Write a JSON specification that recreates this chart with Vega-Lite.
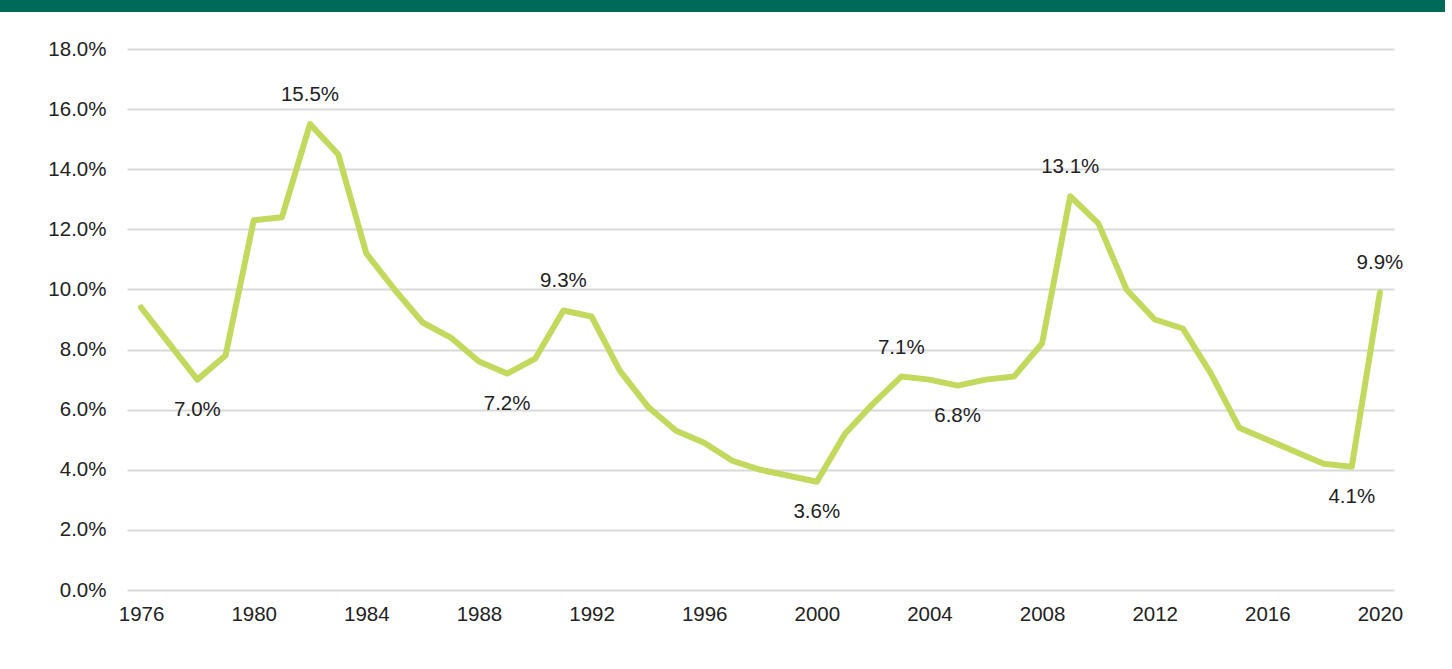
{
  "$schema": "https://vega.github.io/schema/vega-lite/v6.json",
  "padding": 0,
  "background": "white",
  "spacing": 27,
  "config": {
    "view": {"stroke": null},
    "font": "Liberation Sans",
    "concat": {"spacing": 0}
  },
  "datasets": {
    "rates": [
      {"year": 1976, "value": 0.094},
      {"year": 1977, "value": 0.082},
      {"year": 1978, "value": 0.070, "extreme": "trough"},
      {"year": 1979, "value": 0.078},
      {"year": 1980, "value": 0.123},
      {"year": 1981, "value": 0.124},
      {"year": 1982, "value": 0.155, "extreme": "peak"},
      {"year": 1983, "value": 0.145},
      {"year": 1984, "value": 0.112},
      {"year": 1985, "value": 0.100},
      {"year": 1986, "value": 0.089},
      {"year": 1987, "value": 0.084},
      {"year": 1988, "value": 0.076},
      {"year": 1989, "value": 0.072, "extreme": "trough"},
      {"year": 1990, "value": 0.077},
      {"year": 1991, "value": 0.093, "extreme": "peak"},
      {"year": 1992, "value": 0.091},
      {"year": 1993, "value": 0.073},
      {"year": 1994, "value": 0.061},
      {"year": 1995, "value": 0.053},
      {"year": 1996, "value": 0.049},
      {"year": 1997, "value": 0.043},
      {"year": 1998, "value": 0.040},
      {"year": 1999, "value": 0.038},
      {"year": 2000, "value": 0.036, "extreme": "trough"},
      {"year": 2001, "value": 0.052},
      {"year": 2002, "value": 0.062},
      {"year": 2003, "value": 0.071, "extreme": "peak"},
      {"year": 2004, "value": 0.070},
      {"year": 2005, "value": 0.068, "extreme": "trough"},
      {"year": 2006, "value": 0.070},
      {"year": 2007, "value": 0.071},
      {"year": 2008, "value": 0.082},
      {"year": 2009, "value": 0.131, "extreme": "peak"},
      {"year": 2010, "value": 0.122},
      {"year": 2011, "value": 0.100},
      {"year": 2012, "value": 0.090},
      {"year": 2013, "value": 0.087},
      {"year": 2014, "value": 0.072},
      {"year": 2015, "value": 0.054},
      {"year": 2016, "value": 0.050},
      {"year": 2017, "value": 0.046},
      {"year": 2018, "value": 0.042},
      {"year": 2019, "value": 0.041, "extreme": "trough"},
      {"year": 2020, "value": 0.099, "extreme": "peak"}
    ]
  },
  "vconcat": [
    {
      "width": 1445,
      "height": 12,
      "data": {"values": [{}]},
      "mark": {"type": "rect", "color": "#006a5a"},
      "encoding": {}
    },
    {
      "spacing": 0,
      "hconcat": [
        {
          "width": 47,
          "height": 10,
          "data": {"values": []},
          "mark": "rect",
          "encoding": {}
        },
        {
          "width": 1267,
          "height": 541,
          "data": {"name": "rates"},
          "encoding": {
            "x": {
              "field": "year",
              "type": "quantitative",
              "scale": {"domain": [1975.5, 2020.5], "nice": false, "zero": false},
              "axis": {
                "title": null,
                "values": [1976, 1980, 1984, 1988, 1992, 1996, 2000, 2004, 2008, 2012, 2016, 2020],
                "format": "d",
                "grid": false,
                "ticks": false,
                "domain": false,
                "labelFlush": false,
                "labelPadding": 14,
                "labelFont": "Liberation Sans",
                "labelFontSize": 20.5,
                "labelColor": "#222222"
              }
            },
            "y": {
              "field": "value",
              "type": "quantitative",
              "scale": {"domain": [0, 0.18], "nice": false},
              "axis": {
                "title": null,
                "values": [0, 0.02, 0.04, 0.06, 0.08, 0.1, 0.12, 0.14, 0.16, 0.18],
                "format": ".1%",
                "grid": true,
                "gridColor": "#d9d9d9",
                "gridWidth": 2,
                "ticks": false,
                "domain": false,
                "labelFlush": false,
                "labelPadding": 21,
                "labelFont": "Liberation Sans",
                "labelFontSize": 20.5,
                "labelColor": "#222222"
              }
            }
          },
          "layer": [
            {
              "mark": {"type": "line", "color": "#c3d95e", "strokeWidth": 6, "strokeJoin": "round", "strokeCap": "round"}
            },
            {
              "transform": [{"filter": "datum.extreme === 'peak'"}],
              "mark": {"type": "text", "dy": -29, "fontSize": 20.5, "color": "#222222", "font": "Liberation Sans"},
              "encoding": {"text": {"field": "value", "type": "quantitative", "format": ".1%"}}
            },
            {
              "transform": [{"filter": "datum.extreme === 'trough'"}],
              "mark": {"type": "text", "dy": 30, "fontSize": 20.5, "color": "#222222", "font": "Liberation Sans"},
              "encoding": {"text": {"field": "value", "type": "quantitative", "format": ".1%"}}
            }
          ]
        }
      ]
    }
  ]
}
